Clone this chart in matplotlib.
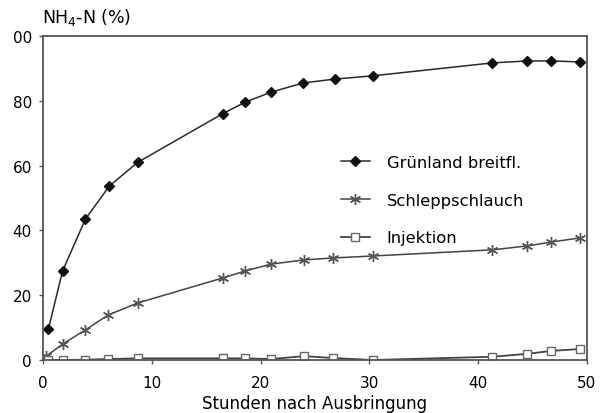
import matplotlib
matplotlib.use("Agg")
import matplotlib.pyplot as plt

plt.rcParams['font.family'] = ['DejaVu Sans']

x_gruen = [0.5, 1.8, 3.9, 6.1, 8.7, 16.5, 18.6, 21.0, 23.9, 26.8, 30.3, 41.3, 44.5, 46.7, 49.4]
y_gruen = [9.6, 27.5, 43.5, 53.7, 61.0, 76.0, 79.6, 82.7, 85.5, 86.7, 87.7, 91.7, 92.3, 92.3, 92.0]

x_schlepp = [0.3, 1.8, 3.9, 6.0, 8.7, 16.5, 18.6, 21.0, 24.0, 26.7, 30.3, 41.3, 44.5, 46.7, 49.4]
y_schlepp = [1.2, 4.9, 9.3, 13.9, 17.6, 25.3, 27.5, 29.6, 30.9, 31.5, 32.1, 34.0, 35.2, 36.4, 37.7]

x_inj = [0.5, 1.8, 3.9, 6.0, 8.7, 16.5, 18.6, 21.0, 24.0, 26.7, 30.3, 41.3, 44.5, 46.7, 49.4]
y_inj = [0.0, 0.0, 0.1, 0.3, 0.5, 0.5, 0.5, 0.3, 1.2, 0.6, 0.0, 1.0, 1.9, 2.8, 3.4]

xticks = [0, 10, 20, 30, 40, 50]
yticks = [0, 20, 40, 60, 80, 100]
yticklabels = ['0', '20', '40', '60', '80', '00']

labels = ['Grünland breitfl.', 'Schleppschlauch', 'Injektion']

fig = plt.figure(figsize=(6.06, 4.14), dpi=100)
ax = fig.add_axes([43/606, (414-361)/414, (587-43)/606, (361-37)/414])

ax.plot(x_gruen, y_gruen, color='#2a2a2a', lw=1.1, marker='D', ms=5.5, mfc='#111111', mec='#111111', label=labels[0])
ax.plot(x_schlepp, y_schlepp, color='#444444', lw=1.1, marker=(6, 2, 0), ms=8, mec='#555555', mew=1.0, label=labels[1])
ax.plot(x_inj, y_inj, color='#444444', lw=1.3, marker='s', ms=6, mfc='white', mec='#666666', mew=1.0, label=labels[2])

ax.set_xlim(0, 50)
ax.set_ylim(0, 100)
ax.set_xticks(xticks)
ax.set_yticks(yticks)
ax.set_yticklabels(yticklabels)
ax.tick_params(labelsize=11, length=3, width=1, color='#555555')
ax.tick_params(axis='x', pad=8)
ax.tick_params(axis='y', pad=5)
for s in ax.spines.values():
    s.set_color('#555555')
    s.set_linewidth(1.3)

ax.set_xlabel('Stunden nach Ausbringung', fontsize=12, labelpad=3)
fig.text(42/606, 1 - 18/414, 'NH$_4$-N (%)', fontsize=12.5, va='center', ha='left')

leg = ax.legend(loc='upper left', bbox_to_anchor=(0.52, 0.678), frameon=False, fontsize=11.8,
                handlelength=1.8, labelspacing=1.38, handletextpad=1.0)

fig.savefig('out.png', dpi=100)
